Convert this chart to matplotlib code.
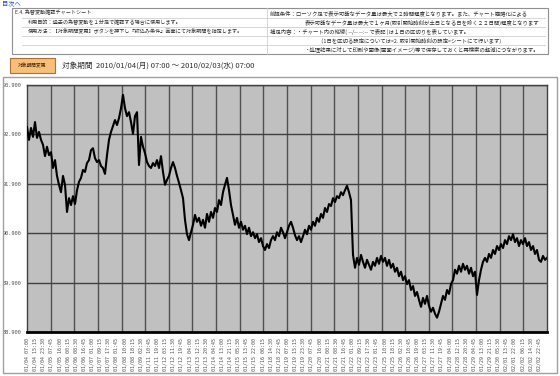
import datetime as dt

import matplotlib
matplotlib.use('Agg')
import matplotlib.pyplot as plt
import numpy as np
from matplotlib.patches import Rectangle

plt.rcParams['font.family'] = ['Noto Sans CJK JP', 'DejaVu Sans']

W, H = 560, 376

# trading days, each one runs 07:00 -> 07:00 next day
trade_dates = ['2010-01-04', '2010-01-05', '2010-01-06', '2010-01-07', '2010-01-08',
               '2010-01-11', '2010-01-12', '2010-01-13', '2010-01-14', '2010-01-15',
               '2010-01-18', '2010-01-19', '2010-01-20', '2010-01-21', '2010-01-22',
               '2010-01-25', '2010-01-26', '2010-01-27', '2010-01-28', '2010-01-29',
               '2010-02-01', '2010-02-02']

# USD/JPY (evenly spaced over the period)
price = [
    93.05, 92.79, 93.03, 92.85, 93.15, 92.83, 92.95, 92.79, 92.69, 92.46,
    92.65, 92.48, 92.54, 92.22, 92.38, 92.06, 91.88, 91.73, 92.06, 91.88,
    91.33, 91.61, 91.47, 91.65, 91.49, 91.77, 91.94, 92.02, 92.18, 92.14,
    92.32, 92.38, 92.58, 92.62, 92.42, 92.34, 92.38, 92.26, 92.22, 92.10,
    92.48, 92.79, 92.95, 93.07, 93.19, 93.09, 93.23, 93.43, 93.70, 93.43,
    93.27, 93.35, 93.15, 92.91, 93.27, 93.35, 92.28, 92.85, 92.65, 92.52,
    92.34, 92.26, 92.22, 92.32, 92.26, 92.38, 92.22, 92.46, 92.14, 91.88,
    91.98, 92.06, 92.22, 92.34, 92.22, 92.06, 91.92, 91.77, 91.61, 91.17,
    90.88, 90.76, 90.92, 91.07, 91.27, 91.13, 91.21, 91.05, 91.17, 91.01,
    91.29, 91.13, 91.33, 91.21, 91.41, 91.33, 91.57, 91.47, 91.73, 91.88,
    92.02, 91.77, 91.47, 91.27, 91.07, 91.21, 91.01, 91.13, 90.97, 91.05,
    90.88, 91.01, 90.84, 90.92, 90.80, 90.88, 90.72, 90.80, 90.64, 90.56,
    90.68, 90.60, 90.76, 90.84, 90.76, 90.92, 90.84, 91.01, 90.92, 90.80,
    90.92, 91.05, 91.13, 91.01, 90.86, 90.76, 90.84, 90.72, 90.84, 90.97,
    90.88, 91.05, 90.97, 91.13, 91.05, 91.21, 91.13, 91.29, 91.21, 91.41,
    91.33, 91.49, 91.45, 91.61, 91.53, 91.65, 91.61, 91.73, 91.67, 91.77,
    91.86, 91.73, 91.57, 90.46, 90.20, 90.40, 90.26, 90.46, 90.32, 90.20,
    90.36, 90.26, 90.16, 90.32, 90.24, 90.40, 90.28, 90.44, 90.32, 90.40,
    90.24, 90.36, 90.20, 90.28, 90.12, 90.20, 90.03, 90.12, 89.95, 90.03,
    89.87, 89.95, 89.75, 89.83, 89.63, 89.71, 89.55, 89.41, 89.59, 89.47,
    89.63, 89.43, 89.31, 89.39, 89.27, 89.19, 89.31, 89.47, 89.63, 89.55,
    89.75, 89.67, 89.87, 89.95, 90.16, 90.08, 90.24, 90.12, 90.28, 90.16,
    90.24, 90.08, 90.20, 90.03, 90.12, 89.65, 89.95, 90.16, 90.32, 90.40,
    90.32, 90.48, 90.40, 90.56, 90.48, 90.64, 90.56, 90.68, 90.60, 90.76,
    90.68, 90.84, 90.76, 90.88, 90.72, 90.80, 90.64, 90.76, 90.68, 90.80,
    90.64, 90.72, 90.56, 90.64, 90.48, 90.56, 90.36, 90.32, 90.44, 90.36,
    90.40,
]

y_ticks = [88.9, 89.9, 90.9, 91.9, 92.9, 93.9]
label_step = 495  # minutes between x labels

notes_left = [
    'E.4. 為替変動確認チャートシート',
    '利用目的：過去の為替変動を１分足で確認する場合に使用します。',
    '使用方法：【対象期間変更】ボタンを押下し『絞込み条件』画面にて対象期間を指定します。',
]
notes_right = [
    '前提条件：ローソク足で表示可能なデータ量は最大で２時間程度となります。また、チャート簡略化による',
    '表示可能なデータ量は最大で１ヶ月(取引開始時刻が土日となる日を除く２２日間)程度となります',
    '補足内容：・チャート内の縦線( --/-- --:-- で表記 )は１日の区切りを表しています。',
    '（1日を区切る設定については<2. 取引開始時刻の設定>シートにて行います)',
    '・処理結果に対して印刷や画像(画面イメージ)等で保存しておくと再検索の軽減につながります。',
]
period_text = '対象期間  2010/01/04(月) 07:00 ～ 2010/02/03(水) 07:00'


def fx(x):
    return x / W


def fy(y):
    return 1 - y / H


n_days = len(trade_dates)
day_min = 1440
total = n_days * day_min
t = np.linspace(0, total, len(price))

fig = plt.figure(figsize=(W / 100, H / 100), dpi=100)
fig.patch.set_facecolor('white')

# header box with notes
fig.patches.append(Rectangle((fx(12), fy(54)), fx(536), 46 / H, transform=fig.transFigure,
                             fill=False, ec='#909090', lw=0.8))
for yy in [18, 27, 36, 45]:
    fig.add_artist(plt.Line2D([fx(22), fx(545)], [fy(yy), fy(yy)], transform=fig.transFigure,
                              color='#d0d0d0', lw=0.6))
fig.add_artist(plt.Line2D([fx(267), fx(267)], [fy(8), fy(54)], transform=fig.transFigure,
                          color='#d0d0d0', lw=0.6))
row_y = [13, 22.5, 31.5, 40.5, 49.5]
for i, (s, x0) in enumerate(zip(notes_left, [15, 28, 28])):
    fig.text(fx(x0), fy(row_y[i]), s, fontsize=3.7, va='center', ha='left', color='#303030')
for i, (s, x0) in enumerate(zip(notes_right, [270, 305, 270, 318, 305])):
    fig.text(fx(x0), fy(row_y[i]), s, fontsize=3.9, va='center', ha='left', color='#303030')

fig.text(fx(2), fy(4), '目次へ', fontsize=4.5, color='#2050c0', va='center', ha='left')

# period button and text
fig.patches.append(Rectangle((fx(10), fy(73)), fx(45), 15 / H, transform=fig.transFigure,
                             fc='#f6c07a', ec='#b07030', lw=0.8))
fig.text(fx(32.5), fy(65.5), '対象期間変更', fontsize=3.4, ha='center', va='center', color='#402000')
fig.text(fx(62), fy(65.5), period_text, fontsize=5.5, ha='left', va='center', color='#303030')

# chart frame
fig.patches.append(Rectangle((fx(3), fy(373)), fx(554), 296 / H, transform=fig.transFigure,
                             fill=False, ec='#a0a0a0', lw=1))

ax = fig.add_axes([fx(27), fy(332), fx(520), 247 / H])
ax.set_facecolor('#c0c0c0')
ax.plot(t, price, color='black', lw=1.5, zorder=3)

ax.set_xlim(0, total)
ax.set_ylim(y_ticks[0], y_ticks[-1])
ax.set_yticks(y_ticks)
ax.set_yticklabels([f'{v:.3f}' for v in y_ticks], fontsize=3.8, color='#505050',
                   family='DejaVu Sans Mono')
ax.grid(axis='y', color='#404040', lw=1, zorder=1)
for k in range(1, n_days):
    ax.axvline(k * day_min, color='#505050', lw=1, zorder=1)

ticks = np.arange(0, total, label_step)
labels = []
for m in ticks:
    k = int(m // day_min)
    d = dt.datetime.strptime(trade_dates[k], '%Y-%m-%d') + dt.timedelta(hours=7, minutes=int(m % day_min))
    labels.append(d.strftime('%m/%d %H:%M'))
ax.set_xticks(ticks)
ax.set_xticklabels(labels, rotation=90, fontsize=3.6, color='#505050', family='DejaVu Sans Mono')
ax.tick_params(length=0, pad=4)

for side in ['left', 'top', 'right']:
    ax.spines[side].set_color('#404040')
    ax.spines[side].set_linewidth(1)
ax.spines['bottom'].set_color('black')
ax.spines['bottom'].set_linewidth(2)

fig.savefig('out.png', dpi=100)
